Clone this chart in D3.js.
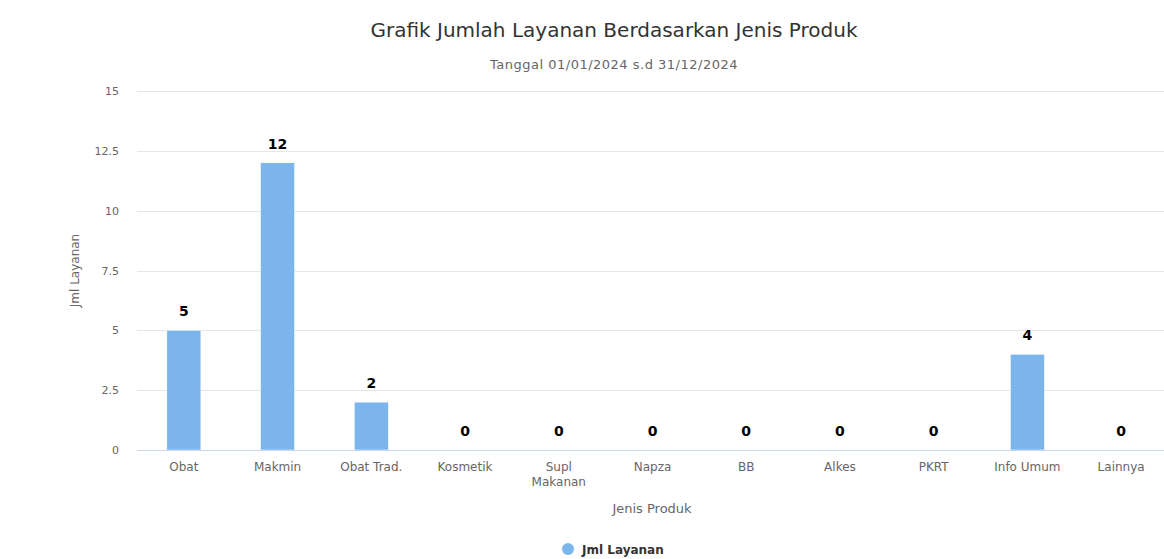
<!DOCTYPE html>
<html>
<head>
<meta charset="utf-8">
<script src="https://cdn.jsdelivr.net/npm/d3@7"></script>
<style>
  body { margin: 0; background: #fff; }
  text { font-family: "DejaVu Sans", Verdana, sans-serif; }
</style>
</head>
<body>
<div id="chart"></div>
<script>
// data
let categories = ["Obat", "Makmin", "Obat Trad.", "Kosmetik", "Supl\nMakanan", "Napza", "BB", "Alkes", "PKRT", "Info Umum", "Lainnya"];
let values = [5, 12, 2, 0, 0, 0, 0, 0, 0, 4, 0];
let yTicks = [0, 2.5, 5, 7.5, 10, 12.5, 15];
let seriesName = "Jml Layanan";

let width = 1164, height = 559;
let margin = {top: 91, left: 137, bottom: 109, right: -4};

let svg = d3.select("#chart").append("svg")
  .attr("width", width)
  .attr("height", height);

let x = d3.scaleBand()
  .domain(categories)
  .range([margin.left, width - margin.right])
  .paddingInner(0.637)
  .paddingOuter(0.3185);

let y = d3.scaleLinear()
  .domain([0, 15])
  .range([height - margin.bottom, margin.top]);

// gridlines
svg.append("g")
  .selectAll("line")
  .data(yTicks.filter(d => d > 0))
  .enter()
  .append("line")
  .attr("x1", margin.left)
  .attr("x2", width)
  .attr("y1", d => Math.round(y(d)) + 0.5)
  .attr("y2", d => Math.round(y(d)) + 0.5)
  .attr("stroke", "#e6e6e6");

// y tick labels
svg.append("g")
  .selectAll("text")
  .data(yTicks)
  .enter()
  .append("text")
  .attr("x", 119)
  .attr("y", d => y(d) + 4)
  .attr("text-anchor", "end")
  .style("font-size", "11px")
  .style("fill", "#666")
  .text(d => d);

// bars
svg.append("g")
  .selectAll("rect")
  .data(values)
  .enter()
  .append("rect")
  .attr("x", (d, i) => x(categories[i]))
  .attr("y", d => y(d))
  .attr("width", x.bandwidth())
  .attr("height", d => y(0) - y(d))
  .attr("fill", "#7cb5ec")
  .attr("stroke", "#fff")
  .attr("stroke-width", 0.5);

// x axis line
svg.append("line")
  .attr("x1", margin.left)
  .attr("x2", width)
  .attr("y1", Math.round(y(0)) + 0.5)
  .attr("y2", Math.round(y(0)) + 0.5)
  .attr("stroke", "#ccd6eb");

// data labels
svg.append("g")
  .selectAll("text")
  .data(values)
  .enter()
  .append("text")
  .attr("x", (d, i) => x(categories[i]) + x.bandwidth() / 2)
  .attr("y", d => y(d) - 14)
  .attr("text-anchor", "middle")
  .style("font-size", "14px")
  .style("font-weight", "bold")
  .style("fill", "#000")
  .style("stroke", "#fff")
  .style("stroke-width", 2)
  .style("paint-order", "stroke")
  .text(d => d);

// x labels
let xl = svg.append("g")
  .selectAll("text")
  .data(categories)
  .enter()
  .append("text")
  .attr("x", d => x(d) + x.bandwidth() / 2)
  .attr("y", 471)
  .attr("text-anchor", "middle")
  .style("font-size", "12px")
  .style("fill", "#666");

xl.each(function(d) {
  let parts = d.split("\n");
  let t = d3.select(this);
  parts.forEach((p, i) => {
    t.append("tspan")
      .attr("x", x(d) + x.bandwidth() / 2)
      .attr("dy", i === 0 ? 0 : 15)
      .text(p);
  });
});

// titles
svg.append("text")
  .attr("x", 614)
  .attr("y", 37)
  .attr("text-anchor", "middle")
  .style("font-size", "20px")
  .style("fill", "#333")
  .text("Grafik Jumlah Layanan Berdasarkan Jenis Produk");

svg.append("text")
  .attr("x", 614)
  .attr("y", 69)
  .attr("text-anchor", "middle")
  .style("font-size", "13px")
  .style("letter-spacing", "0.5px")
  .style("fill", "#666")
  .text("Tanggal 01/01/2024 s.d 31/12/2024");

svg.append("text")
  .attr("transform", "translate(79," + ((y(0) + y(15)) / 2) + ") rotate(-90)")
  .attr("text-anchor", "middle")
  .style("font-size", "12px")
  .style("fill", "#666")
  .text(seriesName);

svg.append("text")
  .attr("x", 652)
  .attr("y", 513)
  .attr("text-anchor", "middle")
  .style("font-size", "13px")
  .style("fill", "#666")
  .text("Jenis Produk");

// legend
let legend = svg.append("g");
legend.append("circle")
  .attr("cx", 568)
  .attr("cy", 549)
  .attr("r", 6)
  .attr("fill", "#7cb5ec");
legend.append("text")
  .attr("x", 582)
  .attr("y", 554)
  .style("font-size", "12px")
  .style("font-weight", "bold")
  .style("fill", "#333")
  .text(seriesName);
</script>
</body>
</html>
